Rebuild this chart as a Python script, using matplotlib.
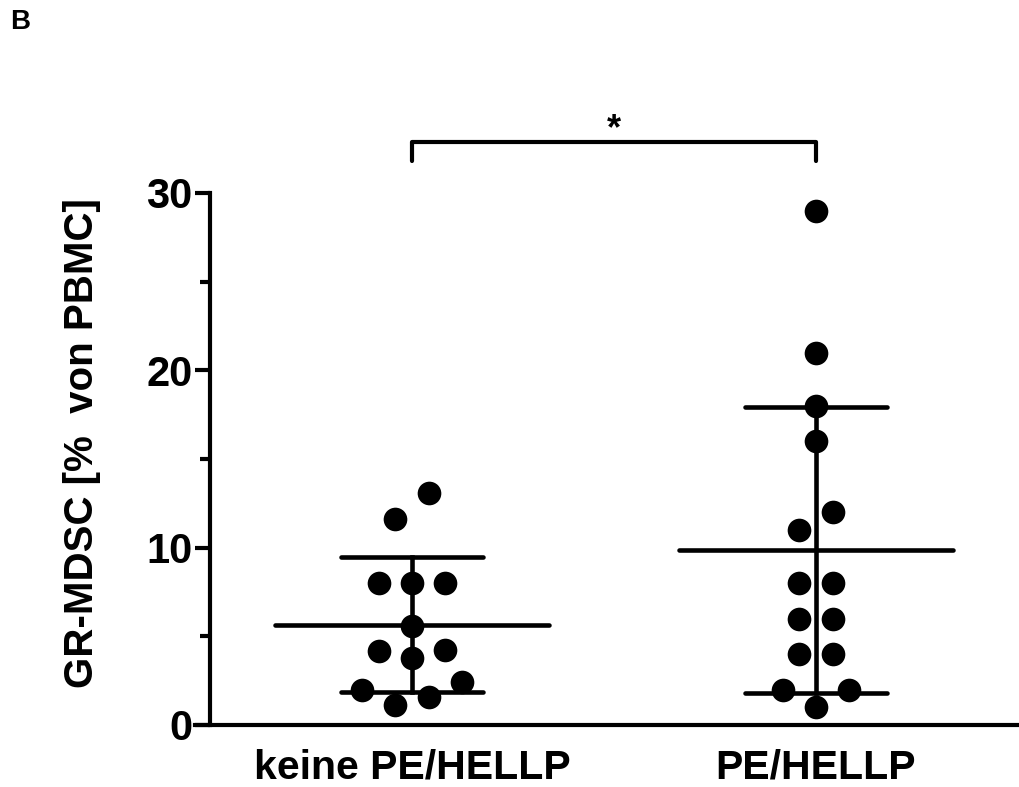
import numpy as np
import matplotlib
matplotlib.use("Agg")
import matplotlib.pyplot as plt

plt.rcParams['font.family'] = ['Liberation Sans', 'DejaVu Sans']

# ---- data ----
categories = ["keine PE/HELLP", "PE/HELLP"]
group1 = [2.0, 1.1, 1.6, 2.4, 4.2, 3.8, 4.25, 5.6, 8.0, 8.0, 8.0, 11.6, 13.1]
group2 = [2.0, 1.0, 2.0, 4.0, 4.0, 6.0, 6.0, 8.0, 8.0, 11.0, 12.0, 16.0, 18.0, 21.0, 29.0]
groups = [group1, group2]
yticks = [0, 10, 20, 30]
ylabel = "GR-MDSC [%  von PBMC]"
sig_label = "*"
panel_label = "B"

fig = plt.figure(figsize=(10.2, 7.87), dpi=100)
ax = fig.add_axes([210/1020, 1-725/787, 808/1020, (725-193)/787])

def swarm_offsets(vals, row_tol=1.6, spacing=0.082):
    vals = np.asarray(vals, float)
    order = np.argsort(vals, kind="stable")
    rows = []
    for i in order:
        if rows and vals[i] - vals[rows[-1][0]] <= row_tol:
            rows[-1].append(i)
        else:
            rows.append([i])
    off = np.zeros(len(vals))
    for r in rows:
        r = sorted(r)  # keep data order inside a row
        n = len(r)
        for k, i in enumerate(r):
            off[i] = (k - (n - 1) / 2) * spacing
    return off

lw = 3.3
for gi, vals in enumerate(groups):
    vals = np.asarray(vals, float)
    off = swarm_offsets(vals)
    ax.scatter(gi + off, vals, s=290, color="black", zorder=3, linewidths=0)
    m = vals.mean()
    sd = vals.std(ddof=1)
    ax.plot([gi - 0.34, gi + 0.34], [m, m], color="black", lw=lw, solid_capstyle="round", zorder=4)
    ax.plot([gi - 0.175, gi + 0.175], [m + sd, m + sd], color="black", lw=lw, solid_capstyle="round", zorder=4)
    ax.plot([gi - 0.175, gi + 0.175], [m - sd, m - sd], color="black", lw=lw, solid_capstyle="round", zorder=4)
    ax.plot([gi, gi], [m - sd, m + sd], color="black", lw=lw, zorder=4)

# significance bracket
ax.plot([0, 0, 1, 1], [31.8, 32.9, 32.9, 31.8], color="black", lw=3.0,
        clip_on=False, solid_joinstyle="round", solid_capstyle="round")
ax.text(0.5, 32.6, sig_label, ha="center", va="bottom", fontsize=26, fontweight="bold")

ax.set_xlim(-0.5, 1.5)
ax.set_ylim(0, 30)
ax.set_xticks([0, 1])
ax.set_xticklabels(categories, fontsize=29.5, fontweight="bold")
ax.set_yticks(yticks)
ax.set_yticklabels([str(t) for t in yticks], fontsize=30, fontweight="bold")
ax.set_yticks([5, 15, 25], minor=True)
ax.tick_params(axis="y", which="major", length=11, width=3.0, pad=1.5)
ax.tick_params(axis="y", which="minor", length=7, width=3.0)
ax.tick_params(axis="x", length=0, pad=17)
for s in ["top", "right"]:
    ax.spines[s].set_visible(False)
ax.spines["left"].set_linewidth(3.0)
ax.spines["bottom"].set_linewidth(3.0)
ax.spines["bottom"].set_bounds(-0.5 - 15/404, 1.5)

fig.text(82/1020, 1-443/787, ylabel, rotation=90, ha="center", va="center",
         fontsize=29, fontweight="bold")
fig.text(10/1020, 1-22/787, panel_label, ha="left", va="center", fontsize=20, fontweight="bold")

fig.savefig("out.png", dpi=100)
